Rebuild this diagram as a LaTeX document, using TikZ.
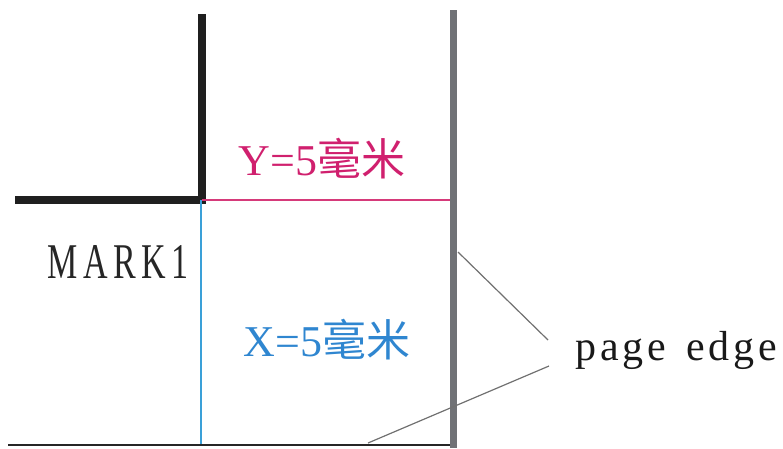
\documentclass[tikz,border=0pt]{standalone}
\usepackage{fontspec}
\setmainfont{Liberation Serif}
\newfontfamily\cjk{Noto Sans CJK SC}
\definecolor{magline}{HTML}{D63A7A}
\definecolor{magtext}{HTML}{D0206E}
\definecolor{blueline}{HTML}{3AA0D8}
\definecolor{bluetext}{HTML}{2F86D0}
\definecolor{edgegray}{HTML}{707276}
\definecolor{leadgray}{HTML}{707070}
\begin{document}
\begin{tikzpicture}[x=1pt,y=-1pt,
  cropmark/.style={line width=8pt,black!88},
  lbl/.style={inner sep=0pt,outer sep=0pt},
  leader/.style={draw=leadgray,line width=1.2pt}]
\useasboundingbox (0,0) rectangle (783,448);
% page edge
\draw[edgegray,line width=7pt] (453,10) -- (453,448);
% bottom edge
\draw[black!85,line width=2pt] (8,445) -- (450,445);
% crop mark L
\draw[cropmark] (202,14) -- (202,200) -- (15,200);
% measurement lines
\draw[magline,line width=1.2pt] (202,200) -- (449.5,200);
\draw[blueline,line width=1.2pt] (201,200) -- (201,444);
% labels
\node[lbl,magtext,font=\fontsize{44}{44}\selectfont] (ylbl) at (322,159) {Y=5{\cjk 毫米}};
\node[lbl,bluetext,font=\fontsize{44}{44}\selectfont] (xlbl) at (327,340) {X=5{\cjk 毫米}};
\node[lbl,black!85,font=\fontsize{50}{50}\selectfont,xscale=0.68,transform shape] (mark1) at (118,262)
  {M\kern8ptA\kern8ptR\kern8ptK\kern8pt1};
\node[lbl,black!90,font=\fontsize{42}{42}\selectfont,anchor=base west] (pe) at (575,360)
  {p\kern4pta\kern4ptg\kern4pte\kern20pte\kern4ptd\kern4ptg\kern4pte};
% leader lines
\coordinate (e1) at (458,252);
\coordinate (e2) at (368,443);
\coordinate (t1) at (548,340);
\coordinate (t2) at (549,366);
\draw[leader] (e1) -- (t1);
\draw[leader] (e2) -- (t2);
\end{tikzpicture}
\end{document}
